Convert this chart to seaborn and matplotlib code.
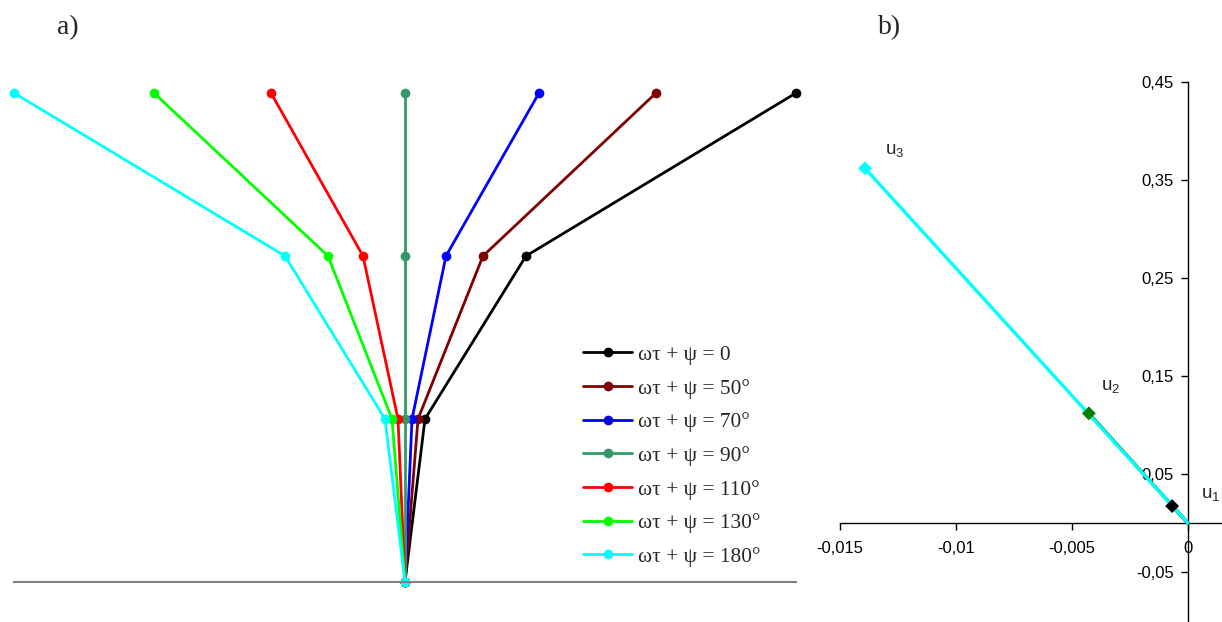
"""Mode shapes of a three-mass system: a) deflected shapes for several phases, b) eigenvector."""

import matplotlib

matplotlib.use("Agg")
import matplotlib.pyplot as plt
import seaborn as sns

# ---- panel a) data: horizontal deflection of each level for each phase ----
levels = [0, 1, 2, 3]
phase_labels = [
    "ωτ + ψ = 0",
    "ωτ + ψ = 50°",
    "ωτ + ψ = 70°",
    "ωτ + ψ = 90°",
    "ωτ + ψ = 110°",
    "ωτ + ψ = 130°",
    "ωτ + ψ = 180°",
]
shape_0 = [0, 20, 121, 391]
shape_50 = [0, 13, 78, 251]
shape_70 = [0, 7, 41, 134]
shape_90 = [0, 0, 0, 0]
shape_110 = [0, -7, -42, -134]
shape_130 = [0, -13, -77, -251]
shape_180 = [0, -20, -120, -391]
shapes = [shape_0, shape_50, shape_70, shape_90, shape_110, shape_130, shape_180]
phase_colors = ["#000000", "#800000", "#0000ff", "#339966", "#ff0000", "#00ff00", "#00ffff"]

# ---- panel b) data: components of the eigenvector ----
mode_names = ["u$_1$", "u$_2$", "u$_3$"]
mode_x = [-0.00068, -0.00427, -0.01392]
mode_y = [0.0173, 0.1119, 0.3619]
mode_colors = ["#000000", "#008000", "#00ffff"]
label_x = [0.00056, -0.00375, -0.01306]
label_y = [0.0286, 0.1388, 0.3806]

xticks_b = [-0.015, -0.01, -0.005, 0]
xtick_labels_b = ["-0,015", "-0,01", "-0,005", "0"]
yticks_b = [0.45, 0.35, 0.25, 0.15, 0.05, -0.05]
ytick_labels_b = ["0,45", "0,35", "0,25", "0,15", "0,05", "-0,05"]

sns.set_style("ticks")
plt.rcParams["font.family"] = ["Liberation Sans", "DejaVu Sans"]
plt.rcParams["mathtext.fontset"] = "custom"
plt.rcParams["mathtext.rm"] = "Liberation Sans"
plt.rcParams["mathtext.it"] = "Liberation Sans"
SERIF = ["Liberation Serif", "DejaVu Serif"]

W, H = 1222, 622
fig = plt.figure(figsize=(W / 100, H / 100), dpi=100)

# ---------------- a) ----------------
ax_a = fig.add_axes([14 / W, 40 / H, 782 / W, 489 / H])
for shape, label, color in zip(shapes, phase_labels, phase_colors):
    sns.lineplot(
        x=shape, y=levels, ax=ax_a, estimator=None, sort=False,
        color=color, linewidth=2.0, marker="o", markersize=7,
        markeredgewidth=0, label=label, clip_on=False,
    )
ax_a.set_xlim(-391, 391)
ax_a.set_ylim(0, 3)
for side in ["top", "right", "left"]:
    ax_a.spines[side].set_visible(False)
ax_a.spines["bottom"].set_color("#808080")
ax_a.spines["bottom"].set_linewidth(1.5)
ax_a.set_xticks([])
ax_a.set_yticks([])
ax_a.set_xlabel("")
ax_a.set_ylabel("")
ax_a.legend(
    loc="upper left", bbox_to_anchor=(583 / W, 1 - 345 / H),
    bbox_transform=fig.transFigure, frameon=False, borderpad=0,
    borderaxespad=0, handlelength=2.3, handletextpad=0.25,
    labelspacing=0.64, prop={"family": SERIF, "size": 15.4},
)

# ---------------- b) ----------------
ax_b = fig.add_axes([840 / W, 0, 382 / W, 540 / H])
for x, y, color, z in zip(mode_x, mode_y, mode_colors, [2, 2, 3]):
    sns.lineplot(x=[0, x], y=[0, y], ax=ax_b, estimator=None, sort=False,
                 color=color, linewidth=2.4, zorder=z)
sns.scatterplot(x=mode_x, y=mode_y, hue=mode_names, palette=mode_colors,
                marker="D", s=50, linewidth=0, ax=ax_b, zorder=4, legend=False)
for name, x, y in zip(mode_names, label_x, label_y):
    ax_b.text(x, y, name, fontsize=13.5, ha="left", va="center")

ax_b.set_xlim(-0.015, 0.00147)
ax_b.set_ylim(-0.101, 0.45)
ax_b.spines["left"].set_position(("data", 0))
ax_b.spines["bottom"].set_position(("data", 0))
ax_b.spines["top"].set_visible(False)
ax_b.spines["right"].set_visible(False)
for side in ["left", "bottom"]:
    ax_b.spines[side].set_color("black")
    ax_b.spines[side].set_linewidth(1.0)
ax_b.set_xticks(xticks_b)
ax_b.set_xticklabels(xtick_labels_b)
ax_b.set_yticks(yticks_b)
ax_b.set_yticklabels(ytick_labels_b)
ax_b.tick_params(axis="x", length=5, width=1, color="black", pad=8,
                 labelsize=12, labelcolor="black")
ax_b.tick_params(axis="y", length=5, width=1, color="black", pad=5,
                 labelsize=12, labelcolor="black")
ax_b.set_xlabel("")
ax_b.set_ylabel("")

# panel captions
fig.text(68 / W, 1 - 28 / H, "a)", family=SERIF, fontsize=20, ha="center", va="center")
fig.text(890 / W, 1 - 28 / H, "b)", family=SERIF, fontsize=20, ha="center", va="center")

fig.savefig("out.png", dpi=100)
plt.close(fig)
